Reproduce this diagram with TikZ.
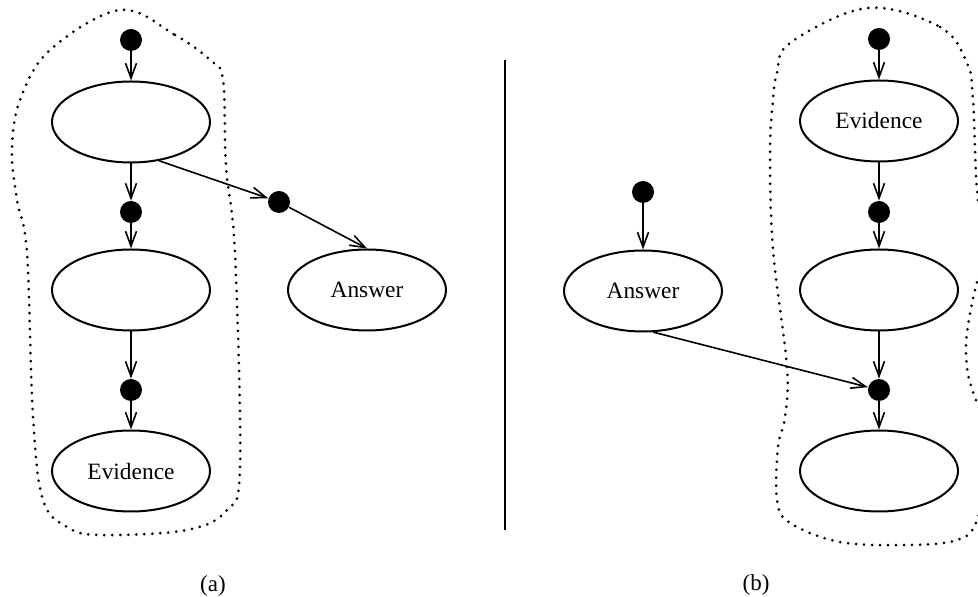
\documentclass[tikz,border=0pt]{standalone}
\usepackage{fontspec}
\setmainfont{Liberation Serif}
\usetikzlibrary{shapes.geometric,arrows.meta}

\begin{document}
\begin{tikzpicture}[x=0.5pt,y=-0.5pt,
  state/.style={ellipse,draw,line width=1pt,minimum width=79pt,minimum height=40.5pt,
                inner sep=0pt,font=\fontsize{11.7}{14}\selectfont},
  chance/.style={circle,fill=black,minimum size=11pt,inner sep=0pt},
  arr/.style={line width=0.8pt,-{Straight Barb[length=7.5pt,width=5.5pt]}},
  region/.style={line width=1.5pt,dash pattern=on 0pt off 4pt,line cap=round},
  caption/.style={font=\fontsize{11.5}{14}\selectfont}]
\useasboundingbox (0,0) rectangle (978,597);
\clip (0,0) rectangle (978,597);

% ---------- (a) ----------
\node[chance] (d1) at (131,40) {};
\node[state]  (e1) at (131,122) {};
\node[chance] (d2) at (131,212) {};
\node[state]  (e2) at (131,290) {};
\node[chance] (d3) at (131,390) {};
\node[state]  (e3) at (131,471) {Evidence};
\node[chance] (da) at (279,202) {};
\node[state]  (ea) at (367,290) {Answer};

\draw[arr] (d1) -- (e1);
\draw[arr] (e1) -- (d2);
\draw[arr] (d2) -- (e2);
\draw[arr] (e2) -- (d3);
\draw[arr] (d3) -- (e3);
\draw[arr] (e1.-54) -- (da);
\draw[arr] (da) -- (ea.north);

\draw[region] plot[smooth cycle,tension=0.6] coordinates {
  (120,10) (175,35) (210,60) (223,80) (226,167) (235,253) (240,467) (227,510)
  (187,530) (100,535) (67,527) (43,500) (33,417) (27,253) (17,200) (12,150)
  (20,100) (50,50)};

\node[caption] (la) at (213,586) {(a)};

% separator
\coordinate (sepT) at (505,60);
\coordinate (sepB) at (505,530);
\draw[line width=1pt] (sepT) -- (sepB);

% ---------- (b) ----------
\node[chance] (rd1) at (879,39) {};
\node[state]  (re1) at (879,121) {Evidence};
\node[chance] (rd2) at (879,212) {};
\node[state]  (re2) at (879,290) {};
\node[chance] (rd3) at (879,390) {};
\node[state]  (re3) at (879,471) {};
\node[chance] (rda) at (643,192) {};
\node[state]  (rea) at (643,291) {Answer};

\draw[arr] (rd1) -- (re1);
\draw[arr] (re1) -- (rd2);
\draw[arr] (rd2) -- (re2);
\draw[arr] (re2) -- (rd3);
\draw[arr] (rd3) -- (re3);
\draw[arr] (rda) -- (rea);
\draw[arr] (rea.-76) -- (rd3);

\draw[region] plot[smooth cycle,tension=0.6] coordinates {
  (867,8) (940,27) (967,63) (973,100) (978,200) (992,240) (977,282) (967,333)
  (967,367) (973,392) (992,450) (977,520) (957,540) (907,545) (840,542)
  (790,523) (777,500) (778,447) (785,417) (787,367) (773,250) (770,153)
  (773,100) (777,73) (790,43)};

\node[caption] (lb) at (756,585) {(b)};
\end{tikzpicture}
\end{document}
